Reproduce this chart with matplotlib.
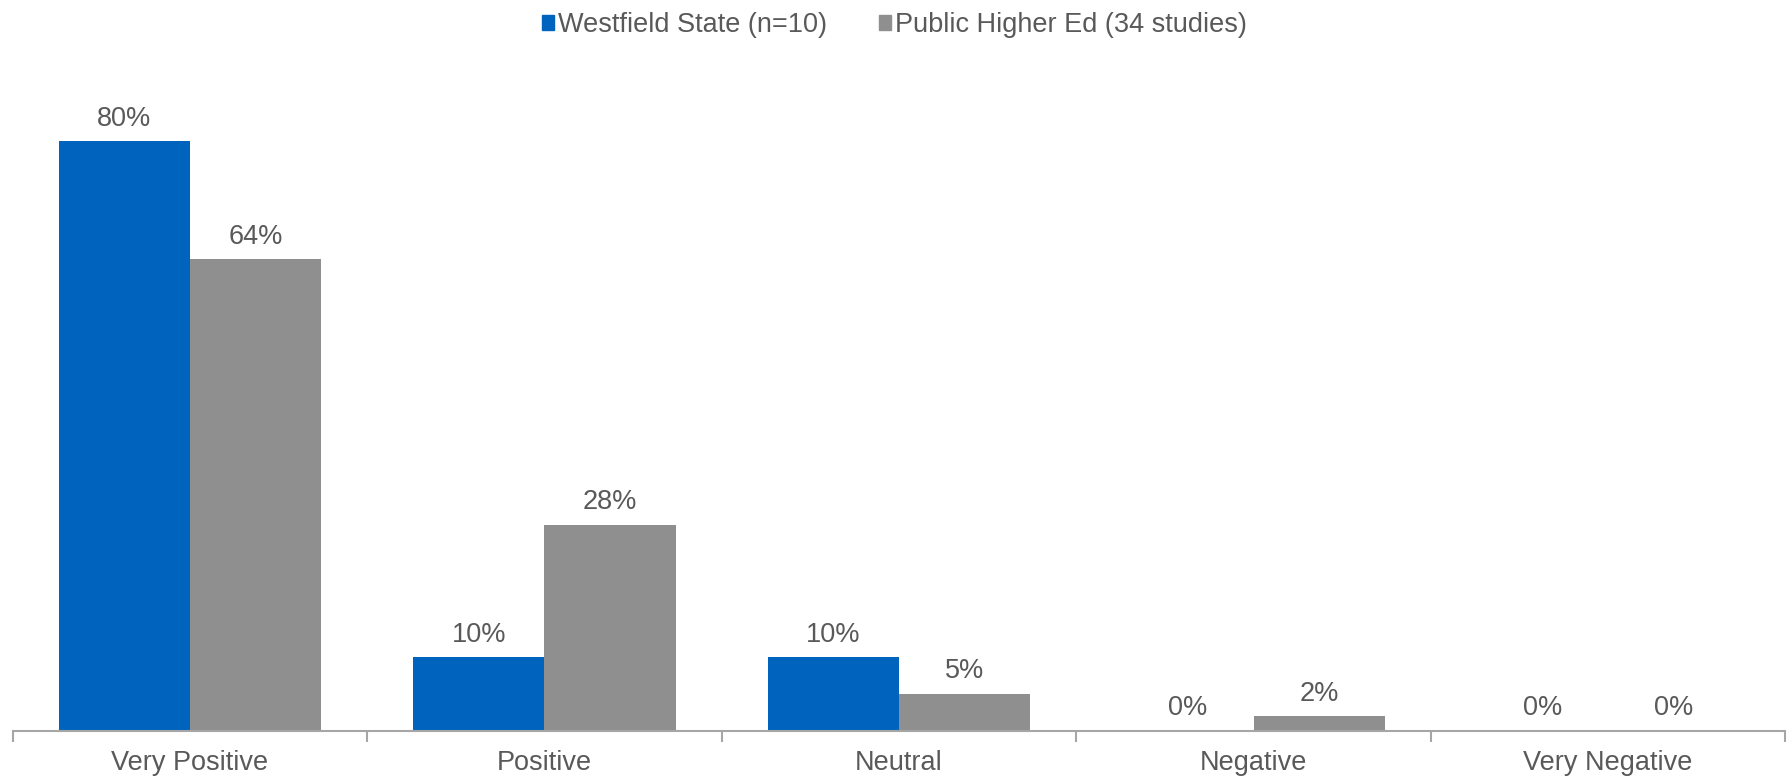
import numpy as np
import matplotlib
matplotlib.use("Agg")
from matplotlib import pyplot as plt
from matplotlib.patches import Patch

categories = ["Very Positive", "Positive", "Neutral", "Negative", "Very Negative"]
westfield = [80, 10, 10, 0, 0]
public_ed = [64, 28, 5, 2, 0]
series_names = ["Westfield State (n=10)", "Public Higher Ed (34 studies)"]

blue = "#0063BE"
grey = "#8E8F8E"
text_c = "#595959"

plt.rcParams["font.family"] = ["Liberation Sans", "DejaVu Sans"]

fig = plt.figure(figsize=(17.89, 7.80), dpi=100)
ax = fig.add_axes([0.007, 0.0628, 0.991, 0.860])

x = np.arange(len(categories))
w = 0.37
b1 = ax.bar(x - w / 2, westfield, w, color=blue)
b2 = ax.bar(x + w / 2, public_ed, w, color=grey)

# value labels over each bar
for bars, vals in [(b1, westfield), (b2, public_ed)]:
    for r, v in zip(bars, vals):
        ax.annotate(f"{v}%", (r.get_x() + r.get_width() / 2, v),
                    xytext=(0, 7), textcoords="offset points",
                    ha="center", va="bottom", fontsize=19.5, color=text_c)

ax.set_xlim(-0.5, len(categories) - 0.5)
ax.set_ylim(0, 91)
ax.set_yticks([])
for s in ["top", "right", "left"]:
    ax.spines[s].set_visible(False)
ax.spines["bottom"].set_color("#A6A6A6")
ax.spines["bottom"].set_linewidth(1.5)

ax.set_xticks(x)
ax.set_xticklabels(categories, fontsize=19.5, color=text_c)
ax.tick_params(axis="x", which="major", length=0, pad=14)
ax.set_xticks(np.arange(-0.5, len(categories)), minor=True)
ax.tick_params(axis="x", which="minor", length=8, width=1.5, color="#A6A6A6")

handles = [Patch(color=blue), Patch(color=grey)]
fig.legend(handles, series_names, loc="center", bbox_to_anchor=(0.5, 0.968),
           ncol=2, frameon=False, fontsize=19.5, labelcolor=text_c,
           handlelength=0.45, handleheight=0.45, handletextpad=0.15,
           columnspacing=1.9)

fig.savefig("out.png", dpi=100)
